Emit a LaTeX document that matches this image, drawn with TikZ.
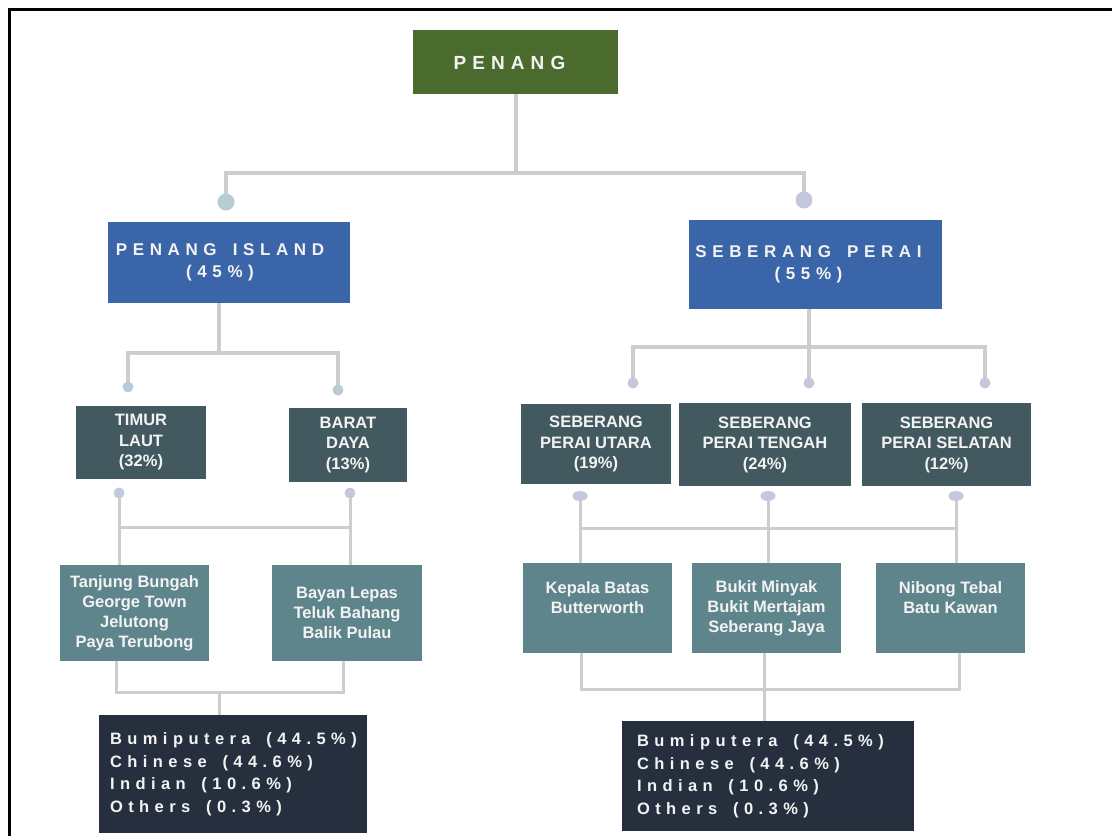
\documentclass[tikz,border=0pt]{standalone}
\usepackage{fontspec}
\setmainfont{Liberation Sans}
\newfontfamily\wideTitle{Liberation Sans}[LetterSpace=32]
\newfontfamily\wideHead{Liberation Sans}[LetterSpace=33]
\newfontfamily\wideList{Liberation Sans}[LetterSpace=33]
\usetikzlibrary{backgrounds,shapes.geometric}

% word gap for letter-spaced captions
\newcommand{\wordgap}{\hspace{0.95em}}

\definecolor{penangGreen}{HTML}{4B6B2E}
\definecolor{regionBlue}{HTML}{3A66A9}
\definecolor{districtSlate}{HTML}{41595F}
\definecolor{townTeal}{HTML}{5E858C}
\definecolor{ethnicNavy}{HTML}{262F3E}
\definecolor{linkGray}{HTML}{CDCDCD}
\definecolor{dotBlue}{HTML}{B8CCD6}
\definecolor{dotLilac}{HTML}{C4C8DD}
\definecolor{textWhite}{HTML}{F3F3F3}

\tikzset{
  box/.style={rectangle, inner sep=0pt, text=textWhite, align=center},
  plainbox/.style={rectangle, inner sep=0pt},
  roottext/.style={inner sep=0pt, text=textWhite, align=center,
    font=\wideTitle\bfseries\fontsize{19}{22}\selectfont},
  regiontext/.style={inner sep=0pt, text=textWhite, align=center,
    font=\wideHead\bfseries\fontsize{17}{21.5}\selectfont},
  districtbox/.style={box, fill=districtSlate, font=\bfseries\fontsize{16.5}{20.5}\selectfont},
  townbox/.style={box, fill=townTeal, font=\bfseries\fontsize{16.5}{20}\selectfont},
  ethnictext/.style={inner sep=0pt, text=textWhite, align=left, anchor=west,
    font=\wideList\bfseries\fontsize{16.5}{22.5}\selectfont},
  link/.style={draw=linkGray, line width=4pt},
  thinlink/.style={draw=linkGray, line width=3pt},
  bigdot/.style={circle, inner sep=0pt, minimum size=17pt},
  smalldot/.style={circle, inner sep=0pt, minimum size=11pt},
  flatdot/.style={ellipse, inner sep=0pt, minimum width=15pt, minimum height=10pt, fill=dotLilac},
}

\begin{document}
\begin{tikzpicture}[x=1pt, y=-1pt]
\useasboundingbox (0,0) rectangle (1112,836);
% outer frame (runs off the right and bottom edges)
\draw[line width=2.2pt] (9.5,9.5) rectangle (1140,860);

% ---- state and regions ----
\node[plainbox, fill=penangGreen, minimum width=205pt, minimum height=64pt] (root) at (515.5,62) {};
\node[roottext] (rootText) at ([xshift=-6pt, yshift=-1pt]root.center) {PENANG};

\node[plainbox, fill=regionBlue, minimum width=242pt, minimum height=81pt] (island) at (229,262.5) {};
\node[regiontext] (islandText) at ([xshift=-9pt]island.center) {PENANG\wordgap ISLAND\\(45\%)};
\node[plainbox, fill=regionBlue, minimum width=253pt, minimum height=89pt] (perai) at (815.5,264.5) {};
\node[regiontext] (peraiText) at ([xshift=-7pt]perai.center) {SEBERANG\wordgap PERAI\\(55\%)};

% ---- districts ----
\node[districtbox, minimum width=130pt, minimum height=73pt] (timur) at (141,442.5) {TIMUR\\LAUT\\(32\%)};
\node[districtbox, minimum width=118pt, minimum height=74pt] (barat) at (348,445) {BARAT\\DAYA\\(13\%)};
\node[districtbox, minimum width=150pt, minimum height=80pt] (utara) at (596,444) {SEBERANG\\PERAI UTARA\\(19\%)};
\node[districtbox, minimum width=172pt, minimum height=83pt] (tengah) at (765,444.5) {SEBERANG\\PERAI TENGAH\\(24\%)};
\node[districtbox, minimum width=169pt, minimum height=83pt] (selatan) at (946.5,444.5) {SEBERANG\\PERAI SELATAN\\(12\%)};

% ---- towns ----
\node[townbox, minimum width=149pt, minimum height=96pt] (tanjung) at (134.5,613) {Tanjung Bungah\\George Town\\Jelutong\\Paya Terubong};
\node[townbox, minimum width=150pt, minimum height=96pt] (bayan) at (347,613) {Bayan Lepas\\Teluk Bahang\\Balik Pulau};
\node[townbox, minimum width=149pt, minimum height=90pt] (kepala) at (597.5,608) {Kepala Batas\\Butterworth\\\mbox{}};
\node[townbox, minimum width=149pt, minimum height=90pt] (bukit) at (766.5,608) {Bukit Minyak\\Bukit Mertajam\\Seberang Jaya};
\node[townbox, minimum width=149pt, minimum height=90pt] (nibong) at (950.5,608) {Nibong Tebal\\Batu Kawan\\\mbox{}};

% ---- population by ethnic group ----
\node[plainbox, fill=ethnicNavy, minimum width=268pt, minimum height=118pt] (ethIsland) at (233,774) {};
\node[ethnictext] (ethIslandText) at ([xshift=11pt]ethIsland.west)
  {Bumiputera\wordgap(44.5\%)\\Chinese\wordgap(44.6\%)\\Indian\wordgap(10.6\%)\\Others\wordgap(0.3\%)};
\node[plainbox, fill=ethnicNavy, minimum width=292pt, minimum height=110pt] (ethPerai) at (768,776) {};
\node[ethnictext] (ethPeraiText) at ([xshift=15pt]ethPerai.west)
  {Bumiputera\wordgap(44.5\%)\\Chinese\wordgap(44.6\%)\\Indian\wordgap(10.6\%)\\Others\wordgap(0.3\%)};

% ---- connector dots ----
\node[bigdot, fill=dotBlue] (dIsland) at (226,202) {};
\node[bigdot, fill=dotLilac] (dPerai) at (804,200) {};

\node[smalldot, fill=dotBlue] (dTimur) at (128,387) {};
\node[smalldot, fill=dotBlue] (dBarat) at (338,390) {};
\node[smalldot, fill=dotLilac] (dUtara) at (633,383) {};
\node[smalldot, fill=dotLilac] (dTengah) at (809,383) {};
\node[smalldot, fill=dotLilac] (dSelatan) at (985,383) {};

\node[smalldot, fill=dotLilac] (dTimurOut) at (119,493) {};
\node[smalldot, fill=dotLilac] (dBaratOut) at (350,493) {};
\node[flatdot] (dUtaraOut) at (580,496) {};
\node[flatdot] (dTengahOut) at (768,496) {};
\node[flatdot] (dSelatanOut) at (956,496) {};

% ---- junction points ----
\coordinate (jRoot) at (516,173);
\coordinate (jIsland) at (219,353);
\coordinate (jPerai) at (809,347);
\coordinate (jIslandTowns) at (230,527);
\coordinate (jPeraiTowns) at (770,528);
\coordinate (jTanjungOut) at (116,692);
\coordinate (jBayanOut) at (343,692);
\coordinate (jIslandEth) at (219,692);
\coordinate (jKepalaOut) at (581,689);
\coordinate (jBukitOut) at (764,689);
\coordinate (jNibongOut) at (959,689);

% ---- connectors (behind boxes and dots) ----
\begin{pgfonlayer}{background}
  \draw[link] (root.south -| jRoot) -- (jRoot);
  \draw[link] (dIsland.center) -- (dIsland.center |- jRoot) -- (dPerai.center |- jRoot) -- (dPerai.center);

  \draw[link] (island.south -| jIsland) -- (jIsland);
  \draw[link] (dTimur.center) -- (dTimur.center |- jIsland) -- (dBarat.center |- jIsland) -- (dBarat.center);
  \draw[link] (perai.south -| jPerai) -- (jPerai);
  \draw[link] (dUtara.center) -- (dUtara.center |- jPerai) -- (dSelatan.center |- jPerai) -- (dSelatan.center);
  \draw[link] (jPerai) -- (dTengah.center);

  \draw[thinlink] (dTimurOut.center) -- (dTimurOut.center |- tanjung.north);
  \draw[thinlink] (dBaratOut.center) -- (dBaratOut.center |- bayan.north);
  \draw[thinlink] (dTimurOut.center |- jIslandTowns) -- (dBaratOut.center |- jIslandTowns);

  \draw[thinlink] (dUtaraOut.center) -- (dUtaraOut.center |- kepala.north);
  \draw[thinlink] (dTengahOut.center) -- (dTengahOut.center |- bukit.north);
  \draw[thinlink] (dSelatanOut.center) -- (dSelatanOut.center |- nibong.north);
  \draw[thinlink] (dUtaraOut.center |- jPeraiTowns) -- (dSelatanOut.center |- jPeraiTowns);

  \draw[thinlink] (tanjung.south -| jTanjungOut) -- (jTanjungOut) -- (jBayanOut) -- (bayan.south -| jBayanOut);
  \draw[thinlink] (jIslandEth) -- (ethIsland.north -| jIslandEth);

  \draw[thinlink] (kepala.south -| jKepalaOut) -- (jKepalaOut) -- (jNibongOut) -- (nibong.south -| jNibongOut);
  \draw[thinlink] (bukit.south -| jBukitOut) -- (jBukitOut) -- (ethPerai.north -| jBukitOut);
\end{pgfonlayer}
\end{tikzpicture}
\end{document}
